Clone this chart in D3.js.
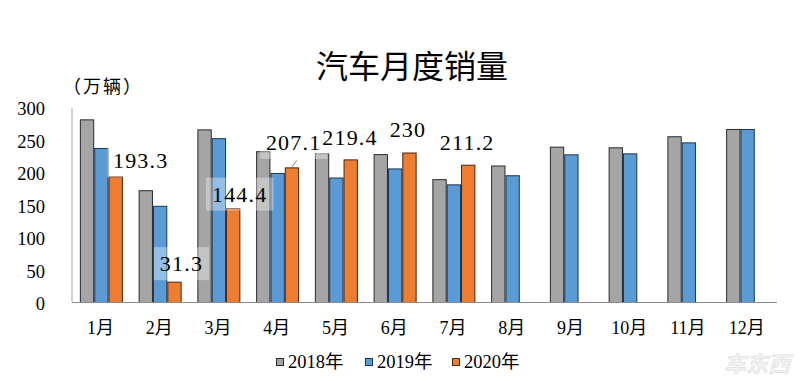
<!DOCTYPE html>
<html><head><meta charset="utf-8">
<script src="https://cdn.jsdelivr.net/npm/d3@7/dist/d3.min.js"></script>
<style>body{margin:0;background:#fff}svg{display:block}</style>
</head><body>
<svg id="c" width="800" height="381"></svg>
<script>
const months = ["1月","2月","3月","4月","5月","6月","7月","8月","9月","10月","11月","12月"];
const seriesNames = ["2018年","2019年","2020年"];
const sales2018 = [281, 172, 265.6, 232, 229, 227.5, 189, 210, 239, 238, 255, 266.2];
const sales2019 = [237, 148, 252, 198.5, 191.5, 205.5, 181, 195, 227.2, 228.7, 245.6, 266.2];
const sales2020 = [193.3, 31.3, 144.4, 207.1, 219.4, 230, 211.2, null, null, null, null, null];
const yTicks = [0, 50, 100, 150, 200, 250, 300];
const colors = ["#A5A5A5", "#5B9BD5", "#ED7D31"];
const strokes = ["#2a2a2a", "#1d3550", "#4a2510"];
// label offsets relative to top-centre of the 2020 bar (layout only)
const labelOffsets = [[25,-8],[7,-10.5],[6.5,-6.5],[1.7,-17.4],[-0.7,-14.4],[-1.5,-15.8],[-1,-14.7]];

const svg = d3.select("#c");
const serif = "'Liberation Serif','Noto Sans CJK SC',serif";
const cjk = "'Noto Sans CJK SC',sans-serif";

const x = d3.scaleBand().domain(months).range([72, 777]).paddingInner(0.268).paddingOuter(0.134);
const xs = d3.scaleBand().domain(seriesNames).range([0, x.bandwidth()]);
const y = d3.scaleLinear().domain([0, 300]).range([302, 107]);

// title
svg.append("text").attr("x", 412).attr("y", 78).attr("text-anchor", "middle")
  .attr("font-family", cjk).attr("font-size", 32).attr("fill", "#000").text("汽车月度销量");
svg.append("text").attr("x", 63).attr("y", 93).attr("font-family", cjk)
  .attr("font-size", 18).attr("letter-spacing", 2).attr("fill", "#000").text("（万辆）");

// y tick labels
svg.append("g").selectAll("text").data(yTicks).join("text")
  .attr("x", 45).attr("y", d => y(d) + 8).attr("text-anchor", "end")
  .attr("font-family", serif).attr("font-size", 18.5).attr("fill", "#000").text(d => d);

// axis lines
svg.append("line").attr("x1", 72).attr("x2", 72).attr("y1", 108).attr("y2", y(0))
  .attr("stroke", "#a6a6a6").attr("stroke-width", 1);

const allSeries = [sales2018, sales2019, sales2020];
allSeries.forEach((vals, si) => {
  svg.append("g").selectAll("rect").data(vals.map((v, i) => ({v, m: months[i]})).filter(d => d.v != null))
    .join("rect")
    .attr("x", d => x(d.m) + xs(seriesNames[si]) + 0.5)
    .attr("y", d => y(d.v) + 0.5)
    .attr("width", xs.bandwidth() - 1)
    .attr("height", d => y(0) - y(d.v))
    .attr("fill", colors[si]).attr("stroke", strokes[si]).attr("stroke-width", 1);
});

svg.append("line").attr("x1", 72).attr("x2", 777).attr("y1", y(0) + 0.5).attr("y2", y(0) + 0.5)
  .attr("stroke", "#8c8c8c").attr("stroke-width", 1);

// data labels for 2020
const lbl = svg.append("g");
sales2020.forEach((v, i) => {
  if (v == null) return;
  const cx = x(months[i]) + xs("2020年") + xs.bandwidth() / 2 + labelOffsets[i][0];
  const by = y(v) + labelOffsets[i][1];
  const t = lbl.append("text").attr("x", cx).attr("y", by).attr("text-anchor", "middle")
    .attr("font-family", serif).attr("font-size", 22).attr("letter-spacing", 1.2)
    .attr("fill", "#000").text(String(v));
  const w = t.node().getComputedTextLength();
  lbl.insert("rect", "text").attr("x", cx - w / 2 - 6).attr("y", by - 24)
    .attr("width", w + 12).attr("height", 33).attr("fill", "#fff").attr("fill-opacity", 0.35);
  if (i === 3) {
    const bx = x(months[i]) + xs("2020年") + xs.bandwidth() / 2;
    lbl.append("line").attr("x1", bx).attr("y1", y(v) - 0.5).attr("x2", bx + 5).attr("y2", y(v) - 7)
      .attr("stroke", "#7f7f7f").attr("stroke-width", 1);
  }
});

// month labels
svg.append("g").selectAll("text").data(months).join("text")
  .attr("x", d => x(d) + x.bandwidth() / 2 - 1).attr("y", 334).attr("text-anchor", "middle")
  .attr("font-family", serif).attr("font-size", 18).attr("fill", "#000").text(d => d);

// legend
const legX = [276, 365, 452];
const leg = svg.append("g");
seriesNames.forEach((n, i) => {
  leg.append("rect").attr("x", legX[i] + 0.5).attr("y", 358.5).attr("width", 7).attr("height", 7)
    .attr("fill", colors[i]).attr("stroke", strokes[i]).attr("stroke-width", 1);
  leg.append("text").attr("x", legX[i] + 12).attr("y", 368).attr("font-family", serif)
    .attr("font-size", 18.5).attr("fill", "#000").text(n);
});

// watermark
svg.append("text").attr("x", 790).attr("y", 372).attr("text-anchor", "end")
  .attr("font-family", cjk).attr("font-weight", "bold").attr("font-style", "italic")
  .attr("font-size", 22).attr("fill", "#f2f2f2").attr("stroke", "#e0e0e0").attr("stroke-width", 0.6)
  .text("车东西");
</script>
</body></html>
